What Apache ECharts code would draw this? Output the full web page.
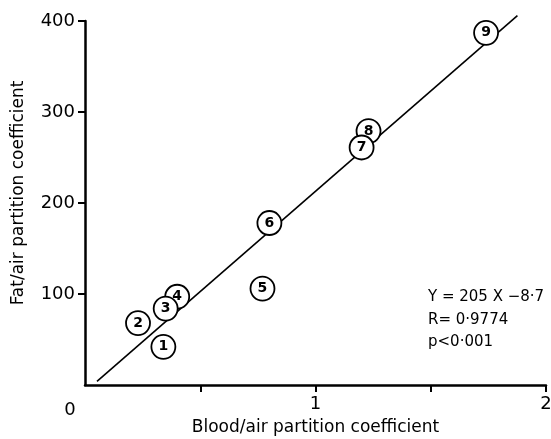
<!DOCTYPE html>
<html>
<head>
<meta charset="utf-8">
<script src="https://cdn.jsdelivr.net/npm/echarts@6/dist/echarts.min.js"></script>
<style>
  html, body { margin: 0; padding: 0; background: #fff; }
  #chart { width: 551px; height: 439px; }
</style>
</head>
<body>
<div id="chart"></div>
<script>
// numbered points
const pointLabels = ['1', '2', '3', '4', '5', '6', '7', '8', '9'];
const bloodAir = [0.34, 0.23, 0.35, 0.40, 0.77, 0.80, 1.20, 1.23, 1.74];
const fatAir = [42, 68, 84, 97, 106, 178, 261, 279, 387];

// drawn regression line ends
const lineX = [0.052, 1.876];
const lineY = [4, 406];

const xTickLabels = { 0: '0', 1: '1', 2: '2' };
const yTickLabels = [100, 200, 300, 400];
const statsText = ['Y = 205 X \u22128\u00b77', 'R= 0\u00b79774', 'p<0\u00b7001'];

const font = 'DejaVu Sans';

let points = [];
for (let i = 0; i < pointLabels.length; i++) {
    points.push({ name: pointLabels[i], value: [bloodAir[i], fatAir[i]] });
}
// later points go underneath earlier ones (3 over 4, 7 over 8)
points.reverse();

let chart = echarts.init(document.getElementById('chart'));
let option = {
    animation: false,
    backgroundColor: '#fff',
    grid: { left: 85, right: 5, top: 21, bottom: 54, containLabel: false, outerBoundsMode: 'none' },
    xAxis: {
        type: 'value', min: 0, max: 2, interval: 0.5,
        name: 'Blood/air partition coefficient',
        nameLocation: 'middle', nameGap: 34, nameMoveOverlap: false,
        nameTextStyle: { fontFamily: font, fontSize: 17, color: '#000' },
        axisLine: { lineStyle: { color: '#000', width: 2.5 } },
        axisTick: { show: true, length: 7, lineStyle: { color: '#000', width: 2 },
            customValues: [0.5, 1, 1.5, 2] },
        splitLine: { show: false },
        axisLabel: {
            margin: 10, color: '#000', fontFamily: font, fontSize: 18,
            formatter: function (v) {
                if (v === 0) return '{zero|0}';
                return xTickLabels[v] !== undefined ? xTickLabels[v] : '';
            },
            rich: { zero: { fontFamily: font, fontSize: 18, color: '#000', padding: [6, 30, 0, 0] } }
        }
    },
    yAxis: {
        type: 'value', min: 0, max: 400, interval: 100,
        name: 'Fat/air partition coefficient',
        nameLocation: 'middle', nameGap: 58, nameRotate: 90,
        nameTextStyle: { fontFamily: font, fontSize: 17, color: '#000', padding: [0, 0, 0, 20] },
        axisLine: { lineStyle: { color: '#000', width: 2.5 } },
        axisTick: { show: true, length: 7, lineStyle: { color: '#000', width: 2 },
            customValues: yTickLabels },
        splitLine: { show: false },
        axisLabel: {
            margin: 10, color: '#000', fontFamily: font, fontSize: 18,
            formatter: function (v) { return yTickLabels.indexOf(v) >= 0 ? String(v) : ''; }
        }
    },
    series: [
        {
            type: 'line',
            data: [[lineX[0], lineY[0]], [lineX[1], lineY[1]]],
            symbol: 'none',
            clip: false,
            lineStyle: { color: '#000', width: 1.6 },
            z: 1
        },
        {
            type: 'scatter',
            data: points,
            symbol: 'circle',
            symbolSize: 24,
            itemStyle: { color: '#fff', borderColor: '#000', borderWidth: 1.8, opacity: 1 },
            label: {
                show: true, position: 'inside',
                formatter: '{b}', color: '#000',
                fontFamily: font, fontSize: 14, fontWeight: 'bold'
            },
            emphasis: { disabled: true },
            z: 2
        }
    ],
    graphic: statsText.map(function (t, i) {
        return {
            type: 'text', left: 428, top: 290 + i * 22.5,
            style: { text: t, fontFamily: font, fontSize: 15, fill: '#000' }
        };
    })
};
chart.setOption(option);
</script>
</body>
</html>
